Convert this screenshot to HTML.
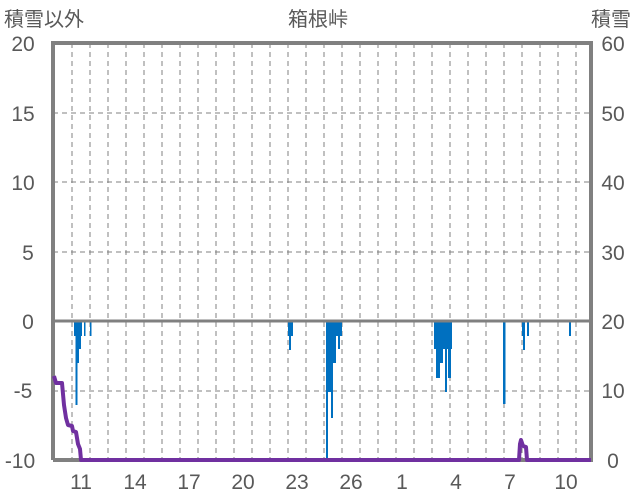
<!DOCTYPE html>
<html><head><meta charset="utf-8"><style>
html,body{margin:0;padding:0;background:#fff;}
svg{display:block;}
text{font-family:"Liberation Sans","Noto Sans CJK JP",sans-serif;fill:#595959;font-size:21px;}
</style></head><body>
<svg width="636" height="501" viewBox="0 0 636 501" xmlns="http://www.w3.org/2000/svg">
<g stroke="#808080" stroke-width="1" stroke-dasharray="5,4">
<line x1="53" y1="113" x2="591" y2="113"/>
<line x1="53" y1="182" x2="591" y2="182"/>
<line x1="53" y1="252" x2="591" y2="252"/>
<line x1="53" y1="391" x2="591" y2="391"/>
<g id="vg">
<line x1="72" y1="43" x2="72" y2="460"/><line x1="90" y1="43" x2="90" y2="460"/><line x1="108" y1="43" x2="108" y2="460"/><line x1="126" y1="43" x2="126" y2="460"/><line x1="144" y1="43" x2="144" y2="460"/><line x1="162" y1="43" x2="162" y2="460"/><line x1="180" y1="43" x2="180" y2="460"/><line x1="198" y1="43" x2="198" y2="460"/><line x1="216" y1="43" x2="216" y2="460"/><line x1="234" y1="43" x2="234" y2="460"/><line x1="252" y1="43" x2="252" y2="460"/><line x1="270" y1="43" x2="270" y2="460"/><line x1="288" y1="43" x2="288" y2="460"/><line x1="306" y1="43" x2="306" y2="460"/><line x1="324" y1="43" x2="324" y2="460"/><line x1="342" y1="43" x2="342" y2="460"/><line x1="360" y1="43" x2="360" y2="460"/><line x1="378" y1="43" x2="378" y2="460"/><line x1="396" y1="43" x2="396" y2="460"/><line x1="414" y1="43" x2="414" y2="460"/><line x1="432" y1="43" x2="432" y2="460"/><line x1="450" y1="43" x2="450" y2="460"/><line x1="468" y1="43" x2="468" y2="460"/><line x1="486" y1="43" x2="486" y2="460"/><line x1="504" y1="43" x2="504" y2="460"/><line x1="522" y1="43" x2="522" y2="460"/><line x1="540" y1="43" x2="540" y2="460"/><line x1="558" y1="43" x2="558" y2="460"/><line x1="576" y1="43" x2="576" y2="460"/>
</g></g>
<g fill="#0070C0">
<rect x="74" y="321" width="8" height="15"/><rect x="76" y="321" width="5" height="28"/><rect x="76" y="321" width="3" height="42"/><rect x="75.5" y="321" width="2" height="84"/>
<rect x="84" y="321" width="1.5" height="15"/><rect x="90" y="321" width="1.5" height="15"/>
<rect x="288" y="321" width="5" height="15"/><rect x="289" y="321" width="2" height="29"/>
<rect x="326" y="321" width="16" height="15"/><rect x="326" y="321" width="7" height="71"/><rect x="326" y="321" width="2" height="139"/><rect x="331" y="321" width="2" height="97"/><rect x="333" y="321" width="3" height="42"/><rect x="338" y="321" width="2" height="28"/>
<rect x="434" y="321" width="18" height="15"/><rect x="434" y="321" width="18" height="28"/><rect x="436" y="321" width="4" height="57"/><rect x="440" y="321" width="3" height="42"/><rect x="445" y="321" width="2" height="71"/><rect x="448" y="321" width="3" height="57"/>
<rect x="503" y="321" width="2.5" height="83"/>
<rect x="522" y="321" width="3" height="15"/><rect x="523" y="321" width="2" height="29"/><rect x="527" y="321" width="2" height="15"/>
<rect x="569" y="321" width="2" height="15"/>
</g>
<line x1="53" y1="321" x2="591" y2="321" stroke="#808080" stroke-width="3"/>
<polyline fill="none" stroke="#808080" stroke-width="4" points="53,460 53,43 591,43 591,460 53,460"/>
<polyline fill="none" stroke="#7030A0" stroke-width="4" stroke-linejoin="round" points="54,376 56,383 62,383 64,405 66,418 68,425 72,426 73,431 76,432 78,444 80,449 81,460 519,460 520,444 521,440 523,446 526,447 527,460 591,460"/>
<g text-anchor="middle">
<text x="23" y="51">20</text><text x="23" y="121">15</text><text x="23" y="190">10</text><text x="28" y="260">5</text><text x="28" y="329">0</text><text x="23" y="398">-5</text><text x="20" y="468">-10</text>
<text x="613" y="51">60</text><text x="613" y="121">50</text><text x="613" y="190">40</text><text x="613" y="260">30</text><text x="613" y="329">20</text><text x="613" y="398">10</text><text x="613" y="468">0</text>
<text x="81" y="489">11</text><text x="135" y="489">14</text><text x="189" y="489">17</text><text x="243" y="489">20</text><text x="297" y="489">23</text><text x="351" y="489">26</text><text x="402" y="489">1</text><text x="456" y="489">4</text><text x="510" y="489">7</text><text x="566" y="489">10</text>
<text x="318" y="26" style="font-size:20px">箱根峠</text>
</g>
<text x="4" y="26" style="font-size:20px">積雪以外</text>
<text x="591" y="26" style="font-size:20px">積雪</text>
</svg>
</body></html>
